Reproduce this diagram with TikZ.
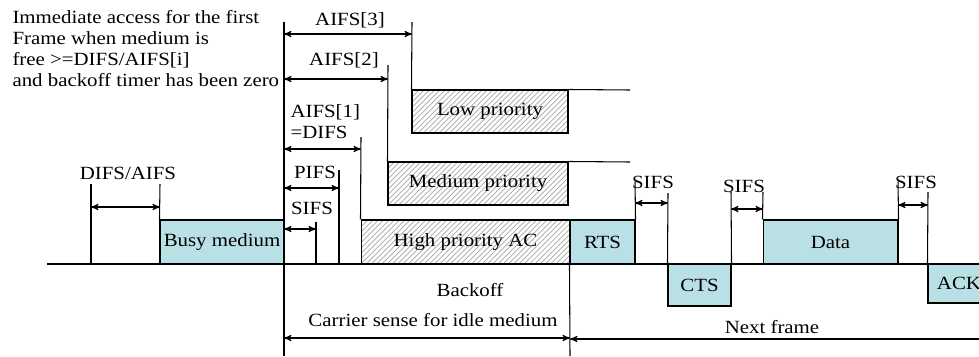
\documentclass[tikz,border=0pt]{standalone}
\usepackage{fontspec}
\setmainfont{Liberation Serif}[FakeStretch=1.12]
\usetikzlibrary{arrows,patterns}
\definecolor{frame}{RGB}{185,224,228}

\begin{document}
\begin{tikzpicture}[x=0.02cm,y=-0.02cm,>=stealth',line width=0.6pt,
    font=\fontsize{10.6}{12}\selectfont]
  \tikzset{pkt/.style={draw,fill=frame,inner sep=0pt,minimum height=0.88cm},
    ac/.style={draw,pattern=north east lines,pattern color=gray!70,inner sep=0pt,minimum height=0.86cm},
    lbl/.style={inner sep=0pt}}
  \useasboundingbox (0,0) rectangle (979,356);

  % time line
  \coordinate (t0) at (47,264);
  \coordinate (t1) at (979,264);
  \draw (t0) -- (t1);

  % frames on the medium
  \node[pkt,minimum width=2.48cm] (busy) at (222,242) {Busy medium};
  \node[ac,minimum width=4.18cm,minimum height=0.88cm] (high) at (465.5,242) {High priority AC};
  \node[ac,minimum width=3.6cm] (med) at (478,183.5) {Medium priority};
  \node[ac,minimum width=3.12cm] (low) at (490,111.5) {Low priority};
  \node[pkt,minimum width=1.3cm] (rts) at (602.5,242) {RTS};
  \node[pkt,minimum width=1.26cm,minimum height=0.84cm] (cts) at (699.5,285) {CTS};
  \node[pkt,minimum width=2.7cm] (data) at (830.5,242) {Data};
  \node[pkt,minimum width=1.24cm,minimum height=0.78cm] (ack) at (959,283.5) {ACK};

  % marker lines
  \coordinate (m0) at (91,184);   \coordinate (m0b) at (91,264);
  \coordinate (m1) at (160,184);
  \coordinate (top) at (284,22);  \coordinate (bot) at (284,356);
  \coordinate (a3) at (412,22);   \coordinate (a2) at (388,65);
  \coordinate (a1) at (361,137);
  \coordinate (p) at (339,170);   \coordinate (pb) at (339,264);
  \coordinate (s) at (316,222);   \coordinate (sb) at (316,264);
  \coordinate (lowe) at (630,90); \coordinate (mede) at (630,162);
  \coordinate (nb) at (570,356);
  \coordinate (r1) at (635,182);  \coordinate (c0) at (668,193);
  \coordinate (c1) at (731,192);  \coordinate (d0) at (763,192);
  \coordinate (d1) at (898,182);  \coordinate (k0) at (928,192);
  \draw (m0) -- (m0b);
  \draw (m1) -- (busy.north west);
  \draw (top) -- (bot);
  \draw (a3) -- (low.north west);
  \draw (low.north east) -- (lowe);
  \draw (a2) -- (med.north west);
  \draw (med.north east) -- (mede);
  \draw (a1) -- (high.north west);
  \draw (p) -- (pb);
  \draw (s) -- (sb);
  \draw (rts.south west) -- (nb);
  \draw (r1) -- (rts.north east);
  \draw (c0) -- (cts.north west);
  \draw (c1) -- (cts.north east);
  \draw (d0) -- (data.north west);
  \draw (d1) -- (data.north east);
  \draw (k0) -- (ack.north west);

  % interframe spaces
  \coordinate (x0) at (91,207);   \coordinate (x1) at (160,207);
  \coordinate (y3) at (284,34);   \coordinate (z3) at (412,34);
  \coordinate (y2) at (284,79);   \coordinate (z2) at (388,79);
  \coordinate (y1) at (284,149);  \coordinate (z1) at (361,149);
  \coordinate (yp) at (284,188);  \coordinate (zp) at (339,188);
  \coordinate (ys) at (284,229);  \coordinate (zs) at (316,229);
  \coordinate (u0) at (635,203);  \coordinate (u1) at (668,203);
  \coordinate (v0) at (731,209);  \coordinate (v1) at (763,209);
  \coordinate (w0) at (898,205);  \coordinate (w1) at (928,205);
  \coordinate (cs0) at (284,338); \coordinate (cs1) at (570,338);
  \coordinate (nf0) at (570,339); \coordinate (nf1) at (979,339);
  \draw[<->] (x0) -- (x1);
  \draw[<->] (y3) -- (z3);
  \draw[<->] (y2) -- (z2);
  \draw[<->] (y1) -- (z1);
  \draw[<->] (yp) -- (zp);
  \draw[<->] (ys) -- (zs);
  \draw[<->] (u0) -- (u1);
  \draw[<->] (v0) -- (v1);
  \draw[<->] (w0) -- (w1);
  \draw[<->] (cs0) -- (cs1);
  \draw[<-] (nf0) -- (nf1);

  % labels
  \node[lbl,anchor=north west,align=left] (note) at (12,10)
    {Immediate access for the first\\Frame when medium is\\free >=DIFS/AIFS[i]\\and backoff timer has been zero};
  \node[lbl] (difs) at (128,173) {DIFS/AIFS};
  \node[lbl] (aifs3) at (350,20) {AIFS[3]};
  \node[lbl] (aifs2) at (344,60) {AIFS[2]};
  \node[lbl,anchor=west,align=left] (aifs1) at (290,122) {AIFS[1]\\=DIFS};
  \node[lbl] (pifs) at (315,172) {PIFS};
  \node[lbl] (sifs) at (312,208) {SIFS};
  \node[lbl] (sifs1) at (653,182) {SIFS};
  \node[lbl] (sifs2) at (744,186) {SIFS};
  \node[lbl] (sifs3) at (916,182) {SIFS};
  \node[lbl] (boff) at (470,290) {Backoff};
  \node[lbl] (cs) at (433,320) {Carrier sense for idle medium};
  \node[lbl] (next) at (772,327) {Next frame};
\end{tikzpicture}
\end{document}
